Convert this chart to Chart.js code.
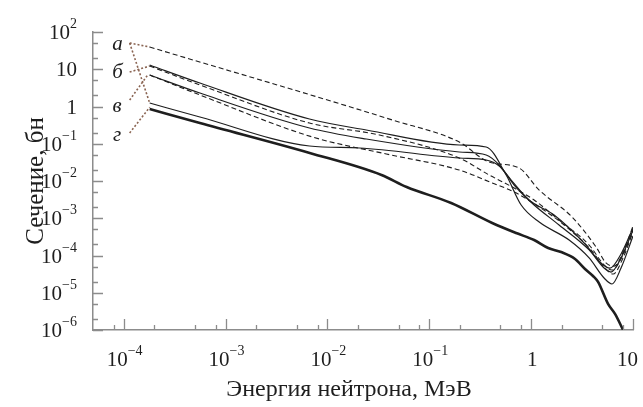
<!DOCTYPE html>
<html>
<head>
<meta charset="utf-8">
<script src="https://cdn.jsdelivr.net/npm/chart.js@4.4.1/dist/chart.umd.min.js"></script>
<style>
  html, body { margin: 0; padding: 0; background: #fff; }
  #wrap { width: 643px; height: 407px; }
</style>
</head>
<body>
<div id="wrap"><canvas id="crossSection"></canvas></div>
<script>
// energies in MeV, cross sections in barns
const energyThick = [1.8e-4, 5.6e-4, 6.7e-3, 0.034, 0.06, 0.164, 0.415, 0.713, 1.07, 1.47, 1.97, 2.7, 3.38, 4.05, 4.54, 5.69, 6.66, 8.0];
const sigmaThick = [0.86, 0.36, 0.0565, 0.0145, 6.9e-3, 2.57e-3, 7.45e-4, 4.0e-4, 2.6e-4, 1.59e-4, 1.24e-4, 8.05e-5, 4.35e-5, 2.82e-5, 1.95e-5, 5.0e-6, 2.7e-6, 1.0e-6];

const energySolidTop = [1.8e-4, 5.6e-4, 6.67e-3, 0.0241, 0.197, 0.362, 0.569, 0.798, 1.2, 2.36, 3.71, 5.2, 6.22, 7.63, 10];
const sigmaSolidTop = [13, 4.27, 0.461, 0.234, 0.0925, 0.0818, 0.0145, 2.27e-3, 7.9e-4, 2.6e-4, 8.6e-5, 2.49e-5, 1.72e-5, 4.6e-5, 3.33e-4];

const energySolidMid = [1.8e-4, 5.6e-4, 6.67e-3, 0.0241, 0.197, 0.362, 0.486, 0.681, 1.07, 1.88, 3.71, 5.2, 6.08, 7.63, 10];
const sigmaSolidMid = [7.0, 2.3, 0.265, 0.134, 0.0601, 0.0499, 0.0269, 7.81e-3, 2.27e-3, 6.6e-4, 1.41e-4, 4.6e-5, 3.6e-5, 8.6e-5, 4.8e-4];

const energySolidLow = [1.8e-4, 5.6e-4, 6.67e-3, 0.0206, 0.197, 0.362, 0.486, 0.637, 0.955, 1.68, 3.31, 4.97, 5.95, 7.63, 10];
const sigmaSolidLow = [1.24, 0.522, 0.0871, 0.0769, 0.0414, 0.0366, 0.0253, 0.0106, 3.09e-3, 1.22e-3, 2.17e-4, 5.9e-5, 4.6e-5, 1.1e-4, 5.47e-4];

const energyDashTop = [1.8e-4, 0.0434, 0.197, 0.387, 0.762, 1.2, 2.52, 4.34, 5.43, 6.52, 8.17, 10];
const sigmaDashTop = [39.5, 0.434, 0.111, 0.0324, 0.0223, 5.7e-3, 1.08e-3, 1.69e-4, 6.3e-5, 5.2e-5, 1.41e-4, 6.2e-4];

const energyDashMid = [1.8e-4, 5.6e-4, 6.67e-3, 0.0324, 0.197, 0.387, 0.681, 1.07, 1.88, 3.71, 5.2, 6.22, 7.98, 10];
const sigmaDashMid = [12.2, 3.78, 0.36, 0.172, 0.0414, 0.0145, 6.48e-3, 3.09e-3, 8.97e-4, 1.91e-4, 5.6e-5, 4.08e-5, 1.03e-4, 4.8e-4];

const energyDashLow = [1.8e-4, 5.6e-4, 7.13e-3, 0.0379, 0.197, 0.415, 0.681, 1.2, 2.11, 3.87, 5.31, 6.37, 7.98, 10];
const sigmaDashLow = [7.0, 2.04, 0.152, 0.0531, 0.0197, 8.84e-3, 5.07e-3, 2.0e-3, 6.6e-4, 1.41e-4, 4.6e-5, 3.18e-5, 8.6e-5, 4.27e-4];

// curve labels and their dotted leaders
const curveLabels = ['а', 'б', 'в', 'г'];
const labelEnergy = [8.7e-5, 8.7e-5, 8.6e-5, 8.6e-5];
const labelSigma = [46, 8.4, 1.0, 0.17];
const leaderFrom = [[1.145e-4, 50.7], [1.145e-4, 50.7], [1.145e-4, 8.4], [1.145e-4, 1.49], [1.145e-4, 0.195]];
const leaderTo = [[1.8e-4, 39.5], [1.8e-4, 1.24], [1.8e-4, 12.2], [1.72e-4, 7.0], [1.8e-4, 0.95]];

// axis ticks; labels are written as base + superscript
const xMajorTicks = [1e-4, 1e-3, 1e-2, 1e-1, 1, 10];
const xTickBase = ['10', '10', '10', '10', '1', '10'];
const xTickExp = ['−4', '−3', '−2', '−1', '', ''];
const xMinorTicks = [8e-5, 2e-4, 5e-4, 8e-4, 2e-3, 5e-3, 8e-3, 2e-2, 5e-2, 8e-2, 0.2, 0.5, 0.8, 2, 5, 8];
const yMajorTicks = [1e-6, 1e-5, 1e-4, 1e-3, 1e-2, 1e-1, 1, 10, 100];
const yTickBase = ['10', '10', '10', '10', '10', '10', '1', '10', '10'];
const yTickExp = ['−6', '−5', '−4', '−3', '−2', '−1', '', '', '2'];
const yMinorTicks = [2e-6, 5e-6, 2e-5, 5e-5, 2e-4, 5e-4, 2e-3, 5e-3, 2e-2, 5e-2, 0.2, 0.5, 2, 5, 20, 50];

const xTitle = 'Энергия нейтрона, МэВ';
const yTitle = 'Сечение, бн';

const serif = "'Liberation Serif', 'Times New Roman', serif";
const axisGrey = '#8c8c8c';
const ink = '#1e1e1e';
const leaderBrown = '#8a6452';

function toPoints(xs, ys) {
  return xs.map((x, i) => ({ x: x, y: ys[i] }));
}

function buildTicks(major, minor) {
  const list = major.map(v => ({ value: v, major: true }))
    .concat(minor.map(v => ({ value: v, major: false })));
  return list.sort((a, b) => a.value - b.value);
}

function curve(xs, ys, width, dash) {
  return {
    data: toPoints(xs, ys),
    borderColor: ink,
    borderWidth: width,
    borderDash: dash,
    pointRadius: 0,
    cubicInterpolationMode: 'monotone',
    fill: false
  };
}

const datasets = [
  curve(energyDashTop, sigmaDashTop, 1.1, [5, 3]),
  curve(energyDashMid, sigmaDashMid, 1.1, [5, 3]),
  curve(energyDashLow, sigmaDashLow, 1.1, [5, 3]),
  curve(energySolidTop, sigmaSolidTop, 1.2, []),
  curve(energySolidMid, sigmaSolidMid, 1.2, []),
  curve(energySolidLow, sigmaSolidLow, 1.2, []),
  curve(energyThick, sigmaThick, 2.6, [])
];

leaderFrom.forEach((p, i) => {
  datasets.push({
    data: [{ x: p[0], y: p[1] }, { x: leaderTo[i][0], y: leaderTo[i][1] }],
    borderColor: leaderBrown,
    borderWidth: 1.6,
    borderDash: [2, 2],
    pointRadius: 0,
    tension: 0,
    fill: false
  });
});

// "10" with a raised exponent
function drawPower(ctx, base, exp, x, baseline, align, maxRight) {
  ctx.font = '21px ' + serif;
  const wb = ctx.measureText(base).width;
  ctx.font = '14px ' + serif;
  const we = exp ? ctx.measureText(exp).width : 0;
  let left = align === 'center' ? x - (wb + we) / 2 : x - (wb + we);
  if (maxRight && left + wb + we > maxRight) left = maxRight - wb - we;
  ctx.font = '21px ' + serif;
  ctx.fillText(base, left, baseline);
  if (exp) {
    ctx.font = '14px ' + serif;
    ctx.fillText(exp, left + wb, baseline - 11);
  }
}

// ticks point into the plot, tick labels, x title and the curve letters
const axisDecor = {
  id: 'axisDecor',
  afterDatasetsDraw(chart) {
    const ctx = chart.ctx;
    const xs = chart.scales.x;
    const ys = chart.scales.y;
    ctx.save();
    ctx.strokeStyle = axisGrey;
    ctx.lineWidth = 1.3;
    ctx.beginPath();
    xs.ticks.forEach(t => {
      const px = Math.round(xs.getPixelForValue(t.value)) + 0.5;
      ctx.moveTo(px, xs.top);
      ctx.lineTo(px, xs.top - (t.major ? 11 : 5));
    });
    ys.ticks.forEach(t => {
      const py = Math.round(ys.getPixelForValue(t.value)) + 0.5;
      ctx.moveTo(ys.right, py);
      ctx.lineTo(ys.right + (t.major ? 10 : 5), py);
    });
    ctx.stroke();

    ctx.fillStyle = ink;
    ctx.textAlign = 'left';
    ctx.textBaseline = 'alphabetic';
    xMajorTicks.forEach((v, i) => {
      drawPower(ctx, xTickBase[i], xTickExp[i], xs.getPixelForValue(v) + 1, xs.top + 36, 'center', chart.width - 5);
    });
    yMajorTicks.forEach((v, i) => {
      drawPower(ctx, yTickBase[i], yTickExp[i], ys.right - 16, ys.getPixelForValue(v) + 7, 'right');
    });

    ctx.font = '24px ' + serif;
    ctx.textAlign = 'center';
    ctx.fillText(xTitle, 349, 396);

    ctx.font = 'italic 21px ' + serif;
    ctx.textBaseline = 'middle';
    curveLabels.forEach((txt, i) => {
      ctx.fillText(txt, xs.getPixelForValue(labelEnergy[i]), ys.getPixelForValue(labelSigma[i]));
    });
    ctx.restore();
  }
};

new Chart(document.getElementById('crossSection'), {
  type: 'line',
  data: { datasets: datasets },
  options: {
    responsive: true,
    maintainAspectRatio: false,
    animation: false,
    layout: { padding: { top: 32, right: 10, left: 0, bottom: 0 } },
    plugins: {
      legend: { display: false },
      tooltip: { enabled: false }
    },
    scales: {
      x: {
        type: 'logarithmic',
        min: 5e-5,
        max: 10,
        afterBuildTicks: s => { s.ticks = buildTicks(xMajorTicks, xMinorTicks); },
        afterFit: s => { s.height = 77; },
        grid: { display: false, drawTicks: false },
        border: { color: axisGrey, width: 1.5 },
        ticks: { display: false },
        title: { display: false }
      },
      y: {
        type: 'logarithmic',
        min: 1e-6,
        max: 100,
        afterBuildTicks: s => { s.ticks = buildTicks(yMajorTicks, yMinorTicks); },
        afterFit: s => { s.width = 93; },
        grid: { display: false, drawTicks: false },
        border: { color: axisGrey, width: 1.5 },
        ticks: { display: false },
        title: {
          display: true,
          text: yTitle,
          color: ink,
          font: { family: serif, size: 25, lineHeight: 1.2 },
          padding: { top: 21, bottom: 0 }
        }
      }
    }
  },
  plugins: [axisDecor]
});
</script>
</body>
</html>
